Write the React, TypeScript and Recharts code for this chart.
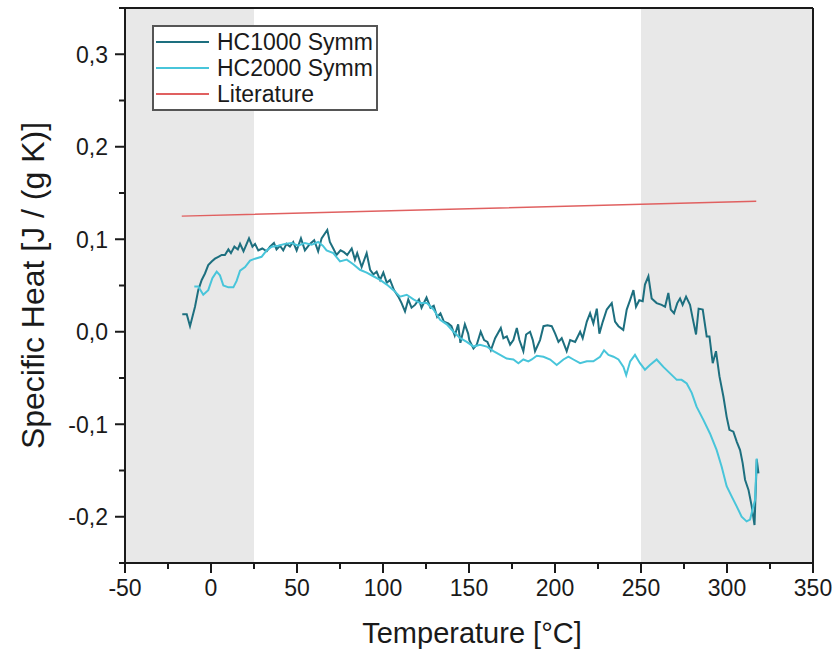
import { LineChart, Line, XAxis, YAxis, ReferenceArea, ReferenceLine, Legend } from "recharts";

// Specific heat of the two HC samples vs. literature, Origin-style frame.
const FONT = '"Liberation Sans", Arial, sans-serif';
const INK = "#1a1a1a";
const C_HC1000 = "#1d6f7f";
const C_HC2000 = "#48c5da";
const C_LIT = "#e06060";
const SHADE = "#e8e8e8";

const X_TICKS = [-50, -25, 0, 25, 50, 75, 100, 125, 150, 175, 200, 225, 250, 275, 300, 325, 350];
const Y_TICKS = [-0.25, -0.2, -0.15, -0.1, -0.05, 0, 0.05, 0.1, 0.15, 0.2, 0.25, 0.3, 0.35];
const SHADED: [number, number][] = [[-50, 25], [250, 350]];

// [temperature °C, specific heat J/(g K)]
const HC1000: [number, number][] = [
  [-16.7, 0.019], [-14.1, 0.019], [-12.2, 0.006], [-9.3, 0.027], [-7.4, 0.045], [-5.4, 0.056],
  [-3.5, 0.063], [-1.6, 0.072], [0.4, 0.076], [2.3, 0.079], [4.3, 0.081], [6.2, 0.083],
  [8.1, 0.083], [10.1, 0.089], [11.6, 0.085], [13.6, 0.092], [15.6, 0.089], [16.9, 0.095],
  [18.9, 0.087], [20.3, 0.093], [22.1, 0.101], [24.1, 0.092], [25.6, 0.095], [27.5, 0.088],
  [29.8, 0.09], [32.4, 0.087], [34.3, 0.092], [36.6, 0.096], [38.1, 0.089], [40.1, 0.093],
  [42.0, 0.088], [43.9, 0.095], [45.9, 0.092], [47.8, 0.097], [49.8, 0.088], [52.3, 0.101],
  [54.6, 0.088], [57.5, 0.095], [60.0, 0.099], [62.3, 0.087], [64.3, 0.101], [67.6, 0.11],
  [69.1, 0.097], [71.1, 0.09], [73.0, 0.083], [75.3, 0.088], [77.3, 0.086], [79.2, 0.083],
  [81.8, 0.09], [83.7, 0.078], [85.0, 0.085], [87.6, 0.07], [90.5, 0.085], [92.5, 0.067],
  [94.4, 0.062], [96.3, 0.065], [98.3, 0.056], [100.2, 0.064], [102.2, 0.053], [104.1, 0.056],
  [106.4, 0.045], [108.9, 0.038], [110.8, 0.031], [112.8, 0.022], [114.7, 0.035], [116.6, 0.026],
  [118.6, 0.029], [120.9, 0.035], [122.4, 0.026], [125.3, 0.037], [127.6, 0.026], [129.5, 0.028],
  [131.5, 0.016], [133.4, 0.02], [135.4, 0.011], [137.9, 0.009], [139.8, 0.006], [141.7, -0.004],
  [143.7, 0.008], [145.0, -0.012], [147.6, 0.008], [149.5, -0.002], [150.2, -0.009], [152.6, -0.018],
  [154.5, -0.014], [156.8, 0.0], [158.8, -0.009], [160.7, -0.011], [162.7, -0.02], [165.2, -0.007],
  [168.5, 0.004], [170.0, -0.007], [172.0, -0.005], [173.9, -0.014], [175.8, -0.009], [177.8, 0.004],
  [179.3, -0.009], [181.6, -0.021], [183.2, -0.003], [185.5, 0.0], [187.1, -0.009], [188.4, -0.021],
  [191.3, -0.009], [193.3, 0.006], [195.6, 0.007], [198.1, 0.006], [200.1, -0.002], [202.0, -0.011],
  [203.9, -0.007], [206.8, -0.021], [208.8, -0.009], [211.7, -0.011], [214.6, 0.0], [216.1, -0.007],
  [218.5, 0.011], [220.4, 0.02], [222.3, 0.009], [224.3, 0.025], [225.8, -0.002], [227.8, 0.011],
  [230.1, 0.024], [233.0, 0.031], [234.9, 0.011], [236.9, 0.006], [239.7, 0.002], [241.7, 0.024],
  [243.6, 0.034], [245.6, 0.045], [247.1, 0.027], [249.0, 0.034], [251.0, 0.033], [252.3, 0.051],
  [254.3, 0.06], [256.2, 0.036], [259.1, 0.031], [262.0, 0.029], [264.0, 0.027], [265.9, 0.042],
  [267.3, 0.024], [269.2, 0.02], [271.1, 0.031], [272.7, 0.036], [274.2, 0.029], [276.2, 0.038],
  [278.5, 0.029], [280.0, 0.015], [282.0, -0.003], [283.5, 0.025], [285.9, 0.024], [288.2, -0.005],
  [289.8, -0.005], [291.7, -0.034], [293.6, -0.021], [295.6, -0.048], [297.9, -0.07], [299.8, -0.092],
  [301.4, -0.106], [303.7, -0.108], [305.7, -0.119], [307.6, -0.128], [309.1, -0.142], [310.5, -0.16],
  [312.5, -0.171], [314.4, -0.189], [316.0, -0.209], [317.3, -0.138], [318.3, -0.153],
];

const HC2000: [number, number][] = [
  [-9.7, 0.049], [-7.4, 0.049], [-4.5, 0.04], [-1.6, 0.045], [0.8, 0.058], [3.3, 0.065],
  [5.2, 0.061], [7.2, 0.05], [10.1, 0.048], [13.0, 0.048], [14.9, 0.055], [16.9, 0.066],
  [19.8, 0.07], [22.7, 0.077], [25.6, 0.079], [29.4, 0.081], [32.4, 0.088], [35.3, 0.092],
  [39.1, 0.093], [43.0, 0.095], [46.9, 0.096], [50.7, 0.093], [54.6, 0.096], [58.5, 0.094],
  [62.3, 0.097], [65.0, 0.093], [67.2, 0.088], [71.1, 0.085], [75.0, 0.076], [78.9, 0.078],
  [82.7, 0.073], [86.6, 0.067], [90.5, 0.064], [94.4, 0.06], [98.3, 0.056], [102.2, 0.051],
  [106.1, 0.045], [109.9, 0.038], [113.8, 0.04], [117.7, 0.035], [121.6, 0.031], [125.5, 0.031],
  [129.4, 0.024], [133.2, 0.013], [137.1, 0.008], [141.0, 0.0], [144.9, -0.007], [148.7, -0.011],
  [152.6, -0.016], [156.4, -0.014], [160.3, -0.016], [164.2, -0.021], [168.1, -0.025], [171.9, -0.029],
  [175.8, -0.03], [178.7, -0.034], [181.6, -0.03], [184.5, -0.032], [186.5, -0.03], [189.4, -0.026],
  [193.3, -0.027], [197.2, -0.03], [201.0, -0.036], [204.9, -0.03], [207.8, -0.027], [210.7, -0.03],
  [214.6, -0.034], [218.5, -0.032], [222.3, -0.032], [226.2, -0.027], [228.5, -0.02], [231.1, -0.025],
  [234.0, -0.027], [236.9, -0.03], [239.8, -0.038], [241.4, -0.047], [243.7, -0.032], [246.5, -0.025],
  [249.4, -0.034], [252.3, -0.041], [255.2, -0.036], [259.1, -0.03], [263.0, -0.038], [266.9, -0.045],
  [270.8, -0.052], [273.6, -0.052], [276.6, -0.056], [279.5, -0.066], [282.3, -0.081], [286.2, -0.095],
  [290.1, -0.11], [294.0, -0.128], [296.9, -0.146], [299.8, -0.167], [302.7, -0.178], [305.7, -0.189],
  [308.5, -0.2], [311.4, -0.205], [313.4, -0.203], [315.0, -0.191], [316.3, -0.182], [317.3, -0.137],
];

const LITERATURE: [number, number][] = [[-17, 0.125], [150, 0.133], [317, 0.141]];

const toRows = (pts: [number, number][]) => pts.map(([t, v]) => ({ t, v }));

const fmtY = (v: number) => v.toFixed(1).replace(".", ",");

function XTick({ x, y, payload }: any) {
  const v = payload.value;
  const major = v % 50 === 0;
  return (
    <g>
      <line x1={x} x2={x} y1={y} y2={y + (major ? 10 : 6)} stroke={INK} strokeWidth={2} />
      {major && (
        <text x={x} y={y + 33} textAnchor="middle" fontSize={23} fill={INK} fontFamily={FONT}>
          {v}
        </text>
      )}
    </g>
  );
}

function YTick({ x, y, payload }: any) {
  const v = payload.value;
  const major = Math.abs(v * 10 - Math.round(v * 10)) < 1e-6;
  return (
    <g>
      <line x1={x} x2={x - (major ? 10 : 6)} y1={y} y2={y} stroke={INK} strokeWidth={2} />
      {major && (
        <text x={x - 17} y={y} dy="0.36em" textAnchor="end" fontSize={23} fill={INK} fontFamily={FONT}>
          {fmtY(v)}
        </text>
      )}
    </g>
  );
}

function LegendBox({ payload }: any) {
  return (
    <div style={{ border: "2px solid #555", background: "#fff", padding: "2px 0", width: 222 }}>
      {(payload ?? []).map((p: any) => (
        <div key={p.value} style={{ display: "flex", alignItems: "center", height: 26 }}>
          <svg width={60} height={26}>
            <line x1={2} x2={55} y1={13} y2={13} stroke={p.color} strokeWidth={2} />
          </svg>
          <span style={{ fontSize: 23, fontFamily: FONT, color: INK, marginLeft: 3, lineHeight: "26px" }}>
            {p.value}
          </span>
        </div>
      ))}
    </div>
  );
}

export default function App() {
  return (
    <div style={{ position: "absolute", left: 0, top: 0, background: "#fff" }}>
      <LineChart width={837} height={654} margin={{ top: 8, right: 24, bottom: 0, left: 0 }}>
        {SHADED.map(([a, b]) => (
          <ReferenceArea key={a} x1={a} x2={b} fill={SHADE} fillOpacity={1} stroke="none" />
        ))}
        <XAxis
          dataKey="t"
          type="number"
          domain={[-50, 350]}
          ticks={X_TICKS}
          interval={0}
          height={91}
          tickSize={0}
          tickMargin={0}
          tickLine={false}
          axisLine={{ stroke: INK, strokeWidth: 2 }}
          tick={<XTick />}
          allowDataOverflow
          label={{ value: "Temperature [°C]", position: "insideBottom", offset: 11, dx: 3, fontSize: 29, fill: INK, fontFamily: FONT }}
        />
        <YAxis
          type="number"
          domain={[-0.25, 0.35]}
          ticks={Y_TICKS}
          interval={0}
          width={125}
          tickSize={0}
          tickMargin={0}
          tickLine={false}
          axisLine={{ stroke: INK, strokeWidth: 2 }}
          tick={<YTick />}
          allowDataOverflow
          label={{ value: "Specific Heat [J / (g K)]", angle: -90, position: "center", dx: -30, fontSize: 32, fill: INK, fontFamily: FONT }}
        />
        <ReferenceLine y={0.35} stroke={INK} strokeWidth={2} />
        <ReferenceLine x={350} stroke={INK} strokeWidth={2} />
        <Line data={toRows(HC1000)} dataKey="v" name="HC1000 Symm" type="linear" stroke={C_HC1000} strokeWidth={2} dot={false} isAnimationActive={false} />
        <Line data={toRows(HC2000)} dataKey="v" name="HC2000 Symm" type="linear" stroke={C_HC2000} strokeWidth={2} dot={false} isAnimationActive={false} />
        <Line data={toRows(LITERATURE)} dataKey="v" name="Literature" type="linear" stroke={C_LIT} strokeWidth={1.5} dot={false} isAnimationActive={false} />
        <Legend
          layout="vertical"
          align="center"
          verticalAlign="middle"
          content={<LegendBox />}
          wrapperStyle={{ left: 152, top: 25, width: "auto", height: "auto" }}
        />
      </LineChart>
    </div>
  );
}
